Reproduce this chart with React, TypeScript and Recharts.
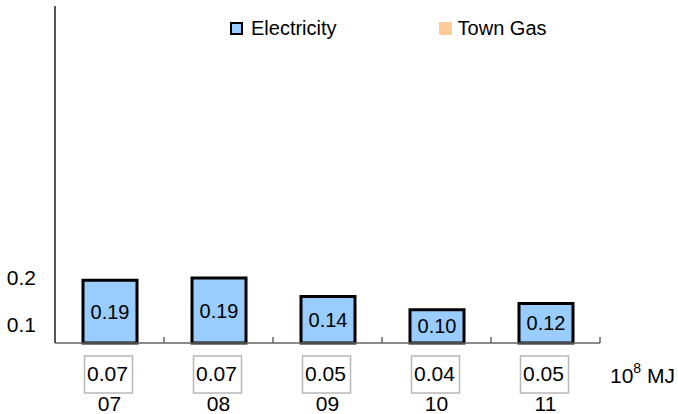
import React from "react";
import { BarChart, Bar, XAxis, YAxis, Legend, LabelList } from "recharts";

// values in 10^8 MJ
const YEARS = ["07", "08", "09", "10", "11"];
const ELECTRICITY = [0.186, 0.193, 0.138, 0.099, 0.117];
const TOWN_GAS = [0.07, 0.07, 0.05, 0.04, 0.05];
const Y_TICKS = [0.1, 0.2];
const SERIES = ["Electricity", "Town Gas"];

const BLUE = "#99ccff";
const PEACH = "#ffcc99";
const FONT = '"Liberation Sans", Arial, sans-serif';

const data = YEARS.map((year, i) => ({
  year,
  electricity: ELECTRICITY[i],
  gas: TOWN_GAS[i],
}));

function YearTick(props: any) {
  const { x, y, payload, index, width, visibleTicksCount } = props;
  const half =
    payload && payload.offset > 2
      ? payload.offset
      : width && visibleTicksCount
      ? width / visibleTicksCount / 2
      : 54.5;
  const gas = data[index]?.gas ?? 0;
  return (
    <g>
      <line x1={x + half} x2={x + half} y1={y} y2={y - 6} stroke="#666" strokeWidth={1.5} />
      <rect x={x - 25} y={y + 13} width={48} height={37} fill="#fff" stroke="#b8b8b8" strokeWidth={1.5} />
      <text x={x - 2} y={y + 30} textAnchor="middle" dominantBaseline="central" fontSize={21} fill="#000">
        {gas.toFixed(2)}
      </text>
      <text x={x} y={y + 60} textAnchor="middle" dominantBaseline="central" fontSize={21} fill="#000">
        {payload.value}
      </text>
    </g>
  );
}

function ValueTick(props: any) {
  const { x, y, payload } = props;
  // the lower label sits a bit under its gridline in the original
  const nudge = payload.value < 0.15 ? 15 : 2;
  return (
    <text x={x} y={y + nudge} textAnchor="end" dominantBaseline="central" fontSize={21} fill="#000">
      {payload.value}
    </text>
  );
}

function LegendBox() {
  return (
    <div style={{ display: "flex", alignItems: "center", fontSize: 20, lineHeight: "20px", color: "#000", fontFamily: FONT }}>
      {SERIES.map((name, i) => (
        <div key={name} style={{ display: "flex", alignItems: "center", marginRight: i === 0 ? 102 : 0 }}>
          <span
            style={
              i === 0
                ? { width: 9, height: 9, border: "2.5px solid #000", background: BLUE, marginRight: 8 }
                : { width: 13, height: 13, background: PEACH, marginRight: 6 }
            }
          />
          <span>{name}</span>
        </div>
      ))}
    </div>
  );
}

export default function App() {
  return (
    <div style={{ position: "absolute", left: 0, top: 0, width: 678, height: 414, background: "#fff", fontFamily: FONT }}>
      <BarChart width={678} height={414} data={data} margin={{ top: 6, right: 78, left: 0, bottom: 0 }}>
        <XAxis
          dataKey="year"
          height={71}
          interval={0}
          tickLine={false}
          tickSize={0}
          tickMargin={0}
          axisLine={{ stroke: "#666", strokeWidth: 1.5 }}
          tick={(p: any) => <YearTick {...p} />}
        />
        <YAxis
          domain={[0, 1]}
          ticks={Y_TICKS}
          width={55}
          tickLine={false}
          tickSize={0}
          tickMargin={19}
          axisLine={{ stroke: "#555", strokeWidth: 2 }}
          tick={(p: any) => <ValueTick {...p} />}
        />
        <Legend
          layout="horizontal"
          verticalAlign="middle"
          align="center"
          wrapperStyle={{ top: 18, left: 230, width: 400 }}
          content={() => <LegendBox />}
        />
        <Bar dataKey="electricity" fill={BLUE} stroke="#000" strokeWidth={3} barSize={54} isAnimationActive={false}>
          <LabelList
            dataKey="electricity"
            position="center"
            formatter={(v: any) => Number(v).toFixed(2)}
            fill="#000"
            fontSize={20}
          />
        </Bar>
      </BarChart>
      <div style={{ position: "absolute", left: 610, top: 366, fontSize: 21, lineHeight: "20px", color: "#000", whiteSpace: "nowrap" }}>
        10<span style={{ position: "relative", top: -10, fontSize: 14 }}>8</span> MJ
      </div>
    </div>
  );
}
